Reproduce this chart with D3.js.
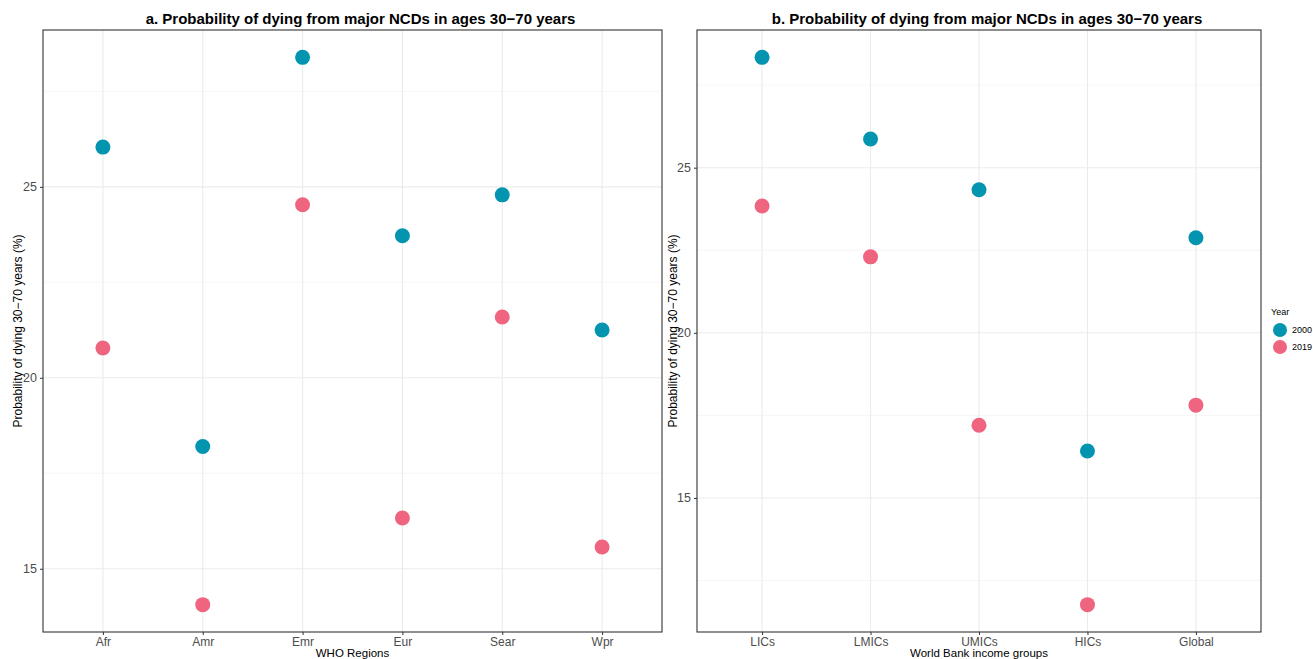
<!DOCTYPE html>
<html>
<head>
<meta charset="utf-8">
<script src="https://cdn.jsdelivr.net/npm/d3@7"></script>
<style>
  body { margin: 0; background: #fff; }
  svg { display: block; font-family: "Liberation Sans", Arial, Helvetica, sans-serif; }
</style>
</head>
<body>
<svg id="chart" width="1313" height="659"></svg>
<script>
// ---- Data ----
const regions = ["Afr", "Amr", "Emr", "Eur", "Sear", "Wpr"];
const regions2000 = [26.04, 18.2, 28.39, 23.72, 24.79, 21.25];
const regions2019 = [20.78, 14.06, 24.53, 16.33, 21.59, 15.57];

const incomeGroups = ["LICs", "LMICs", "UMICs", "HICs", "Global"];
const income2000 = [28.34, 25.87, 24.33, 16.42, 22.88];
const income2019 = [23.84, 22.30, 17.2, 11.77, 17.81];

const years = ["2000", "2019"];
const yearColors = ["#0395B0", "#EF6580"];
const yTicks = [15, 20, 25];
const titleA = "a. Probability of dying from major NCDs in ages 30\u221270 years";
const titleB = "b. Probability of dying from major NCDs in ages 30\u221270 years";
const yTitle = "Probability of dying 30\u221270 years (%)";

const svg = d3.select("#chart");

function panel(opt) {
  const {left, right, top, bottom, cats, s2000, s2019, title, xTitle, yTitleX} = opt;
  const g = svg.append("g");
  const all = s2000.concat(s2019);
  const [mn, mx] = d3.extent(all);
  const pad = (mx - mn) * 0.05;
  const y = d3.scaleLinear().domain([mn - pad, mx + pad]).range([bottom, top]);
  const x = d3.scalePoint().domain(cats).range([left, right]).padding(0.6);

  // minor grid
  const minor = [];
  for (let v = Math.ceil((mn - pad) / 2.5) * 2.5; v <= mx + pad; v += 2.5) {
    if (!yTicks.includes(v)) minor.push(v);
  }
  g.selectAll("line.minor").data(minor).join("line")
    .attr("x1", left).attr("x2", right)
    .attr("y1", d => y(d)).attr("y2", d => y(d))
    .attr("stroke", "#f0f0f0").attr("stroke-width", 0.6);
  // major grid
  g.selectAll("line.majy").data(yTicks).join("line")
    .attr("x1", left).attr("x2", right)
    .attr("y1", d => y(d)).attr("y2", d => y(d))
    .attr("stroke", "#ebebeb").attr("stroke-width", 1.1);
  g.selectAll("line.majx").data(cats).join("line")
    .attr("x1", d => x(d)).attr("x2", d => x(d))
    .attr("y1", top).attr("y2", bottom)
    .attr("stroke", "#ebebeb").attr("stroke-width", 1.1);

  // points
  const pts = [];
  cats.forEach((c, i) => {
    pts.push({c, v: s2000[i], k: 0});
    pts.push({c, v: s2019[i], k: 1});
  });
  g.selectAll("circle.pt").data(pts).join("circle")
    .attr("cx", d => x(d.c)).attr("cy", d => y(d.v)).attr("r", 7.5)
    .attr("fill", d => yearColors[d.k]);

  // border
  g.append("rect").attr("x", left).attr("y", top)
    .attr("width", right - left).attr("height", bottom - top)
    .attr("fill", "none").attr("stroke", "#333333").attr("stroke-width", 1.1);

  // axes
  const yAxis = g.append("g").attr("transform", `translate(${left},0)`)
    .call(d3.axisLeft(y).tickValues(yTicks).tickSize(3).tickPadding(3).tickFormat(d3.format("d")));
  yAxis.select(".domain").remove();
  yAxis.selectAll("line").attr("stroke", "#333333");
  yAxis.selectAll("text").attr("fill", "#4d4d4d").style("font-size", "12.5px");

  const xAxis = g.append("g").attr("transform", `translate(0,${bottom})`)
    .call(d3.axisBottom(x).tickSize(3).tickPadding(2));
  xAxis.select(".domain").remove();
  xAxis.selectAll("line").attr("stroke", "#333333");
  xAxis.selectAll("text").attr("fill", "#4d4d4d").style("font-size", "12px");

  // titles
  g.append("text").attr("x", (left + right) / 2 + 8).attr("y", 23.5)
    .attr("text-anchor", "middle").style("font-size", "15px").style("font-weight", "bold")
    .attr("fill", "#000").text(title);
  g.append("text").attr("x", (left + right) / 2).attr("y", 656.5)
    .attr("text-anchor", "middle").style("font-size", "11.5px").attr("fill", "#000").text(xTitle);
  g.append("text")
    .attr("transform", `translate(${yTitleX},${(top + bottom) / 2}) rotate(-90)`)
    .attr("text-anchor", "middle").style("font-size", "12px").attr("fill", "#000").text(yTitle);
}

panel({left: 43, right: 662, top: 30, bottom: 632, cats: regions,
  s2000: regions2000, s2019: regions2019, title: titleA, xTitle: "WHO Regions", yTitleX: 22});
panel({left: 697, right: 1261, top: 30, bottom: 632, cats: incomeGroups,
  s2000: income2000, s2019: income2019, title: titleB, xTitle: "World Bank income groups", yTitleX: 677});

// legend
const lg = svg.append("g");
lg.append("text").attr("x", 1271).attr("y", 315).style("font-size", "9px").attr("fill", "#000").text("Year");
lg.selectAll("circle").data(years).join("circle")
  .attr("cx", 1280).attr("cy", (d, i) => 330 + i * 17).attr("r", 7)
  .attr("fill", (d, i) => yearColors[i]);
lg.selectAll("text.lab").data(years).join("text").attr("class", "lab")
  .attr("x", 1292).attr("y", (d, i) => 333 + i * 17)
  .style("font-size", "9px").attr("fill", "#000").text(d => d);
</script>
</body>
</html>
